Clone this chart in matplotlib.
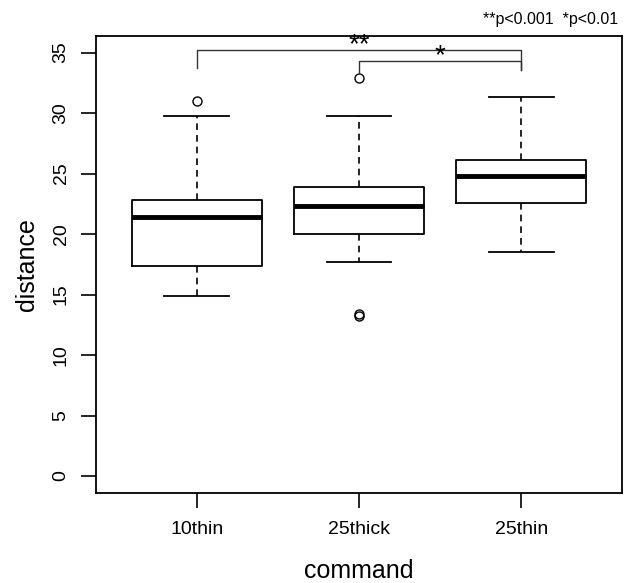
import matplotlib
matplotlib.use("Agg")
import matplotlib.pyplot as plt

plt.rcParams['font.family'] = ['Liberation Sans', 'DejaVu Sans']

## data
commands = ["10thin", "25thick", "25thin"]
whisker_low = [14.9, 17.7, 18.5]
q1 = [17.4, 20.0, 22.6]
medians = [21.4, 22.3, 24.8]
q3 = [22.8, 23.9, 26.1]
whisker_high = [29.8, 29.8, 31.3]
outliers = [[31.0], [32.9, 13.4, 13.2], []]

## significance brackets: (from, to, bar height, left leg end, right leg end, label)
brackets = [(1, 3, 35.2, 33.7, 33.6, "**"),
            (2, 3, 34.3, 33.3, 33.6, "*")]

stats = []
for i in range(len(commands)):
    stats.append({"label": commands[i], "whislo": whisker_low[i], "q1": q1[i],
                  "med": medians[i], "q3": q3[i], "whishi": whisker_high[i],
                  "fliers": outliers[i]})

fig = plt.figure(figsize=(6.24, 5.83), dpi=100)
ax = fig.add_axes([0.1538, 0.1544, 0.8430, 0.7844])

ax.bxp(stats, widths=0.8, showfliers=True,
       boxprops=dict(color="black", linewidth=1.3),
       medianprops=dict(color="black", linewidth=3.5, solid_capstyle="butt"),
       whiskerprops=dict(color="black", linewidth=1.2, linestyle=(0, (4, 3))),
       capprops=dict(color="black", linewidth=1.3),
       capwidths=0.4,
       flierprops=dict(marker="o", markerfacecolor="none", markeredgecolor="black",
                       markersize=6.5, markeredgewidth=1.0))

for x0, x1, yb, yl, yr, lab in brackets:
    ax.plot([x0, x0, x1, x1], [yl, yb, yb, yr], color="#333333", linewidth=1.0)
    ax.text((x0 + x1) / 2, yb - 0.7, lab, ha="center", va="bottom", fontsize=20)

ax.set_xlim(0.38, 3.62)
ax.set_ylim(-1.4, 36.4)
ax.set_yticks([0, 5, 10, 15, 20, 25, 30, 35])
ax.set_yticklabels(["0", "5", "10", "15", "20", "25", "30", "35"], rotation=90, va="center")
ax.tick_params(axis="both", direction="out", length=11, width=1.2, labelsize=14)
ax.tick_params(axis="x", pad=9)
ax.tick_params(axis="y", pad=8)
for s in ax.spines.values():
    s.set_linewidth(1.3)

ax.set_xlabel("command", fontsize=18, labelpad=15)
ax.set_ylabel("distance", fontsize=18, labelpad=10)

fig.text(0.991, 0.966, "**p<0.001  *p<0.01", ha="right", va="center", fontsize=11.5)

fig.savefig("out.png", dpi=100)
